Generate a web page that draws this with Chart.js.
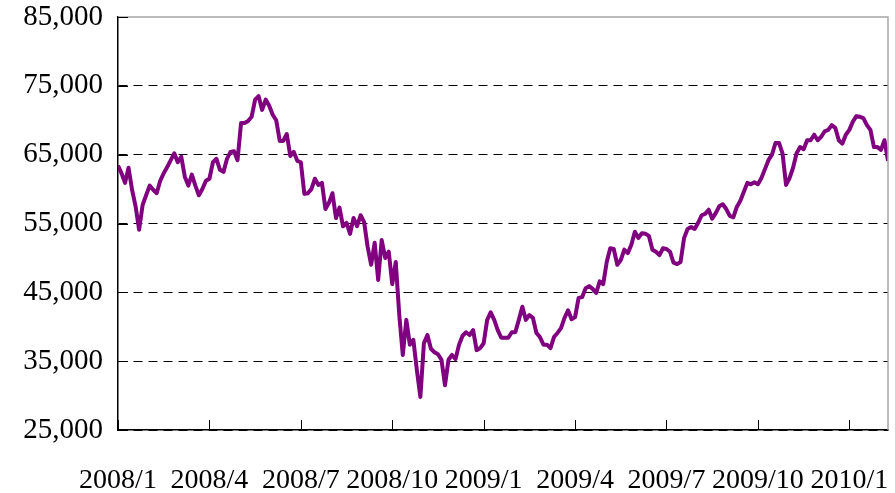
<!DOCTYPE html>
<html>
<head>
<meta charset="utf-8">
<script src="https://cdn.jsdelivr.net/npm/chart.js@4/dist/chart.umd.min.js"></script>
<style>
  body { margin: 0; background: #fff; }
</style>
</head>
<body>
<canvas id="chart" width="895" height="493"></canvas>
<script>
// x axis: one label every 26 points (about twice a week)
const tickLabels = ["2008/1", "2008/4", "2008/7", "2008/10", "2009/1", "2009/4", "2009/7", "2009/10", "2010/1"]
const pointsPerQuarter = 26
const yTicks = [25000, 35000, 45000, 55000, 65000, 75000, 85000]

const values = [
  63400, 62300, 60900, 63100, 59900, 57500, 54100, 57700, 59100, 60500, 59900, 59400, 61200,
  62300, 63200, 64200, 65200, 63900, 64700, 61800, 60500, 62100, 60500, 59100, 60000, 61200,
  61500, 63900, 64400, 62800, 62500, 64400, 65400, 65500, 64200, 69600, 69600, 69900, 70500,
  73000, 73500, 71500, 73000, 72100, 70800, 70000, 67000, 67000, 68000, 64800, 65400, 64100,
  63900, 59300, 59400, 60000, 61500, 60600, 60900, 57100, 58000, 59400, 55800, 57300, 54600,
  55100, 53500, 55800, 54600, 56200, 55200, 51600, 49000, 52200, 46800, 52600, 50000, 50900,
  46200, 49400, 41700, 35900, 41000, 37400, 38100, 33700, 29800, 37600, 38800, 36800, 36300,
  36000, 35200, 31500, 35200, 35900, 35300, 37400, 38700, 39200, 38800, 39500, 36600, 36900,
  37600, 41000, 42100, 41000, 39500, 38400, 38400, 38400, 39200, 39200, 41000, 42900, 41000,
  41700, 41300, 39100, 38500, 37400, 37400, 36900, 38500, 39100, 39800, 41300, 42400, 41100,
  41400, 44200, 44300, 45600, 45900, 45500, 44900, 46600, 46200, 49400, 51400, 51300, 49000,
  49700, 51200, 50700, 51900, 53800, 52900, 53600, 53500, 53200, 51200, 50900, 50400, 51400,
  51300, 50900, 49300, 49100, 49400, 52900, 54200, 54500, 54200, 55100, 56200, 56400, 57000,
  55700, 56500, 57500, 57800, 57100, 56100, 55900, 57400, 58300, 59600, 60900, 60700, 61000,
  60700, 61600, 62900, 64200, 65000, 66700, 66700, 65200, 60600, 61600, 63100, 65200, 66100,
  65800, 67100, 67100, 67900, 67100, 67600, 68400, 68600, 69300, 68900, 67100, 66600, 67900,
  68600, 69800, 70600, 70500, 70300, 69300, 68600, 66100, 66100, 65700, 67100, 64100
]

const serif = "'Liberation Serif', 'Times New Roman', serif"

// inward tick marks and the grey top/right frame
const frame = {
  id: "frame",
  afterDraw(chart) {
    const { ctx, chartArea: a, scales: { x, y } } = chart
    ctx.save()
    ctx.strokeStyle = "#a6a6a6"
    ctx.lineWidth = 1.5
    ctx.beginPath()
    ctx.moveTo(a.left, a.top)
    ctx.lineTo(a.right, a.top)
    ctx.lineTo(a.right, a.bottom)
    ctx.stroke()

    ctx.strokeStyle = "#000"
    ctx.lineWidth = 1
    ctx.beginPath()
    x.ticks.forEach(t => {
      const px = Math.round(x.getPixelForValue(t.value)) + 0.5
      ctx.moveTo(px, a.bottom)
      ctx.lineTo(px, a.bottom - 10)
    })
    y.ticks.forEach(t => {
      const py = Math.round(y.getPixelForValue(t.value)) + 0.5
      ctx.moveTo(a.left, py)
      ctx.lineTo(a.left + 10, py)
    })
    ctx.stroke()
    ctx.restore()
  }
}

new Chart(document.getElementById("chart"), {
  type: "line",
  data: {
    labels: values.map((v, i) => i),
    datasets: [{
      data: values,
      borderColor: "#800080",
      borderWidth: 4,
      borderJoinStyle: "round",
      pointRadius: 0,
      tension: 0,
      fill: false
    }]
  },
  options: {
    responsive: false,
    animation: false,
    layout: { padding: { top: 17, right: 7, left: 0, bottom: 0 } },
    plugins: { legend: { display: false }, tooltip: { enabled: false } },
    scales: {
      x: {
        type: "linear",
        min: 0,
        max: values.length - 1,
        afterBuildTicks: s => {
          s.ticks = tickLabels.map((t, k) => ({ value: k * pointsPerQuarter }))
        },
        afterFit: s => {
          s.height = 63
          s.paddingLeft = 0
          s.paddingRight = 0
        },
        ticks: {
          callback: v => tickLabels[v / pointsPerQuarter],
          font: { family: serif, size: 28 },
          color: "#000",
          padding: 34,
          maxRotation: 0,
          autoSkip: false
        },
        grid: { display: false, drawTicks: false },
        border: { display: true, color: "#000", width: 1.5 }
      },
      y: {
        min: 25000,
        max: 85000,
        afterBuildTicks: s => {
          s.ticks = yTicks.map(v => ({ value: v }))
        },
        afterFit: s => {
          s.width = 118
          s.paddingTop = 0
          s.paddingBottom = 0
        },
        ticks: {
          callback: v => v.toLocaleString("en-US"),
          font: { family: serif, size: 29 },
          color: "#000",
          padding: 15
        },
        grid: {
          color: c => (c.tick && c.tick.value === 85000) ? "rgba(0,0,0,0)" : "#000",
          lineWidth: 1,
          drawTicks: false
        },
        border: { display: true, color: "#000", width: 1.5, dash: [9, 6] }
      }
    }
  },
  plugins: [frame]
})
</script>
</body>
</html>
